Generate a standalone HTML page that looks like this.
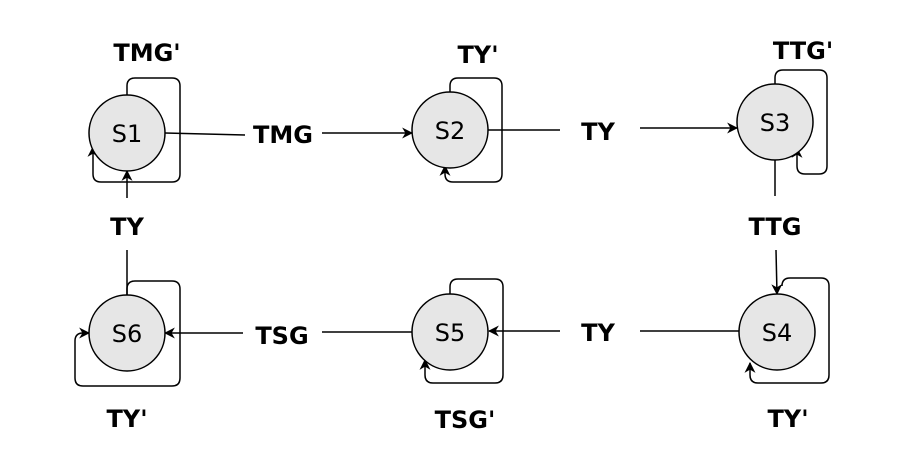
<!DOCTYPE html>
<html><head><meta charset="utf-8"><style>
html,body{margin:0;padding:0;background:#fff;}
svg{display:block;}
.l{font-family:"DejaVu Sans","Liberation Sans",sans-serif;font-weight:bold;font-size:24px;fill:#000;text-anchor:middle;}
.s{font-family:"DejaVu Sans","Liberation Sans",sans-serif;font-size:24px;fill:#000;text-anchor:middle;}
circle{fill:#e6e6e6;stroke:#000;stroke-width:1.5;}
path,line{fill:none;stroke:#000;stroke-width:1.5;}
</style></head><body>
<svg width="907" height="459" viewBox="0 0 907 459" xmlns="http://www.w3.org/2000/svg">
<defs><marker id="a" viewBox="0 0 10 10" refX="9" refY="5" markerWidth="11" markerHeight="11" orient="auto-start-reverse" markerUnits="userSpaceOnUse"><path d="M0,0 L10,5 L0,10 L3,5 Z" style="fill:#000;stroke:none"/></marker></defs>

<path d="M127,95 V86 Q127,78 135,78 H172 Q180,78 180,86 V174 Q180,182 172,182 H101 Q93,182 93,174 V147" marker-end="url(#a)"/>
<path d="M450,92 V86 Q450,78 458,78 H494 Q502,78 502,86 V174 Q502,182 494,182 H453 Q445,182 445,174 V166" marker-end="url(#a)"/>
<path d="M775,84 V78 Q775,70 783,70 H819 Q827,70 827,78 V166 Q827,174 819,174 H805 Q797,174 797,166 V148" marker-end="url(#a)"/>
<path d="M782,286 Q782,278 790,278 H821 Q829,278 829,286 V375 Q829,383 821,383 H758 Q750,383 750,375 V363" marker-end="url(#a)"/>
<path d="M450,294 V287 Q450,279 458,279 H495 Q503,279 503,287 V375 Q503,383 495,383 H433 Q425,383 425,375 V360" marker-end="url(#a)"/>
<path d="M127,295 V289 Q127,281 135,281 H172 Q180,281 180,289 V378 Q180,386 172,386 H83 Q75,386 75,378 V341 Q75,333 83,333 H89" marker-end="url(#a)"/>

<path d="M165,133 L245,135"/>
<path d="M322,133 H412" marker-end="url(#a)"/>
<path d="M488,130 H560"/>
<path d="M640,128 H737" marker-end="url(#a)"/>
<path d="M775,160 V196"/>
<path d="M776,250 L777,294" marker-end="url(#a)"/>
<path d="M739,331 H640"/>
<path d="M560,331 H489" marker-end="url(#a)"/>
<path d="M412,332 H322"/>
<path d="M243,333 H165" marker-end="url(#a)"/>
<path d="M127,295 V250"/>
<path d="M127,198 V171" marker-end="url(#a)"/>

<circle cx="127" cy="133" r="38"/>
<circle cx="450" cy="130" r="38"/>
<circle cx="775" cy="122" r="38"/>
<circle cx="777" cy="332" r="38"/>
<circle cx="450" cy="332" r="38"/>
<circle cx="127" cy="333" r="38"/>

<text class="s" x="127" y="142">S1</text>
<text class="s" x="450" y="139">S2</text>
<text class="s" x="775" y="131">S3</text>
<text class="s" x="777" y="341">S4</text>
<text class="s" x="450" y="341">S5</text>
<text class="s" x="127" y="342">S6</text>

<text class="l" x="147" y="61">TMG'</text>
<text class="l" x="478" y="63">TY'</text>
<text class="l" x="803" y="59">TTG'</text>
<text class="l" x="283" y="143">TMG</text>
<text class="l" x="598" y="140">TY</text>
<text class="l" x="127" y="235">TY</text>
<text class="l" x="775" y="235">TTG</text>
<text class="l" x="598" y="341">TY</text>
<text class="l" x="282" y="344">TSG</text>
<text class="l" x="127" y="427">TY'</text>
<text class="l" x="465" y="428">TSG'</text>
<text class="l" x="788" y="427">TY'</text>
</svg>
</body></html>
